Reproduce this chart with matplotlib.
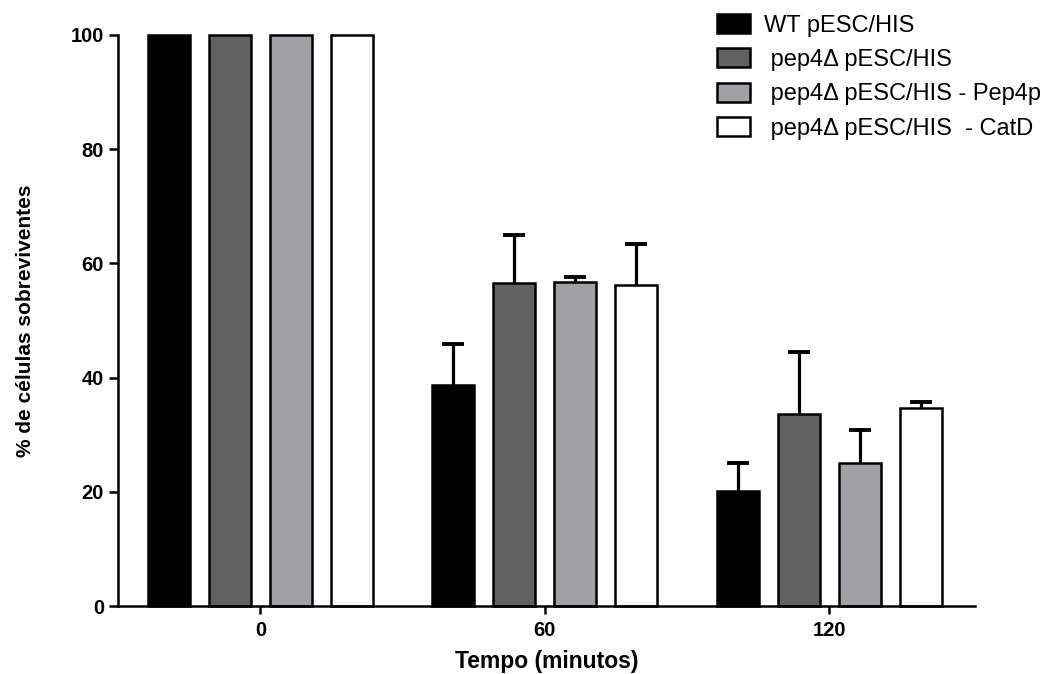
import numpy as np
import matplotlib
matplotlib.use("Agg")
import matplotlib.pyplot as plt

plt.rcParams['font.family'] = ['Liberation Sans', 'DejaVu Sans']

time_labels = ["0", "60", "120"]
series_labels = ["WT pESC/HIS", " pep4\u0394 pESC/HIS", " pep4\u0394 pESC/HIS - Pep4p", " pep4\u0394 pESC/HIS  - CatD"]
wt_mean = [100, 38.7, 20.2]
wt_err = [0, 7.2, 4.9]
pep4_mean = [100, 56.5, 33.6]
pep4_err = [0, 8.4, 10.8]
pep4p_mean = [100, 56.8, 25.0]
pep4p_err = [0, 0.9, 5.8]
catd_mean = [100, 56.3, 34.6]
catd_err = [0, 7.1, 1.1]
y_ticks = [0, 20, 40, 60, 80, 100]

means = [wt_mean, pep4_mean, pep4p_mean, catd_mean]
errs = [wt_err, pep4_err, pep4p_err, catd_err]
colors = ["#000000", "#616161", "#a1a0a5", "#ffffff"]

fig = plt.figure(figsize=(10.48, 6.74), dpi=100)
ax = fig.add_axes([118/1048, 68/674, (975-118)/1048, (606-35)/674])

x = np.arange(len(time_labels))
offsets = [-0.322, -0.107, 0.107, 0.322]
width = 0.148
for m, e, c, off, lab in zip(means, errs, colors, offsets, series_labels):
    m = np.array(m, dtype=float)
    e = np.array(e, dtype=float)
    ax.bar(x + off, m, width, color=c, edgecolor="black", linewidth=1.8,
           label=lab, clip_on=False, zorder=2)
    sel = e > 0
    xs = (x + off)[sel]
    ax.vlines(xs, m[sel], m[sel] + e[sel], color="black", linewidth=2.3, zorder=3)
    ax.plot(xs, m[sel] + e[sel], linestyle="none", marker="_", markersize=16.5,
            markeredgewidth=2.8, color="black", zorder=3, clip_on=False)

ax.set_xlim(-0.501, 2.513)
ax.set_ylim(0, 100)
ax.set_xticks(x)
ax.set_xticklabels(time_labels)
ax.set_yticks(y_ticks)

for s in ["top", "right"]:
    ax.spines[s].set_visible(False)
ax.spines["left"].set_linewidth(1.8)
ax.spines["bottom"].set_linewidth(1.8)
ax.tick_params(axis="y", length=6.5, width=1.8, pad=3.5, labelsize=14.5)
ax.tick_params(axis="x", length=6, width=1.8, pad=5, labelsize=14.5)
for t in ax.get_xticklabels() + ax.get_yticklabels():
    t.set_fontweight("bold")

ax.set_xlabel("Tempo (minutos)", fontsize=16.5, fontweight="bold", labelpad=7)
ax.set_ylabel("% de células sobreviventes", fontsize=15, fontweight="bold", labelpad=26)

leg = ax.legend(loc="upper left", bbox_to_anchor=(717/1048, 1 - 14/674),
                bbox_transform=fig.transFigure, frameon=False, fontsize=17,
                handlelength=1.4, handleheight=0.85, handletextpad=0.6,
                labelspacing=0.5, borderpad=0, borderaxespad=0)

fig.savefig("out.png", dpi=100)
